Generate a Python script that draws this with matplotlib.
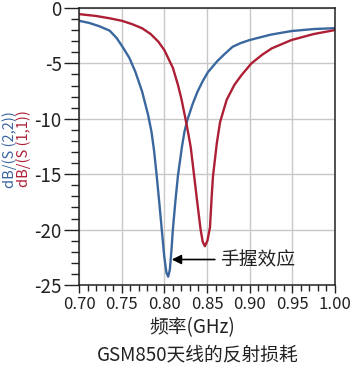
import matplotlib
matplotlib.use("Agg")
import matplotlib.pyplot as plt
from matplotlib.ticker import MultipleLocator, FormatStrFormatter

# === Data ===
freq_s22 = [0.700, 0.712, 0.724, 0.736, 0.744, 0.751, 0.759, 0.766, 0.774, 0.781,
            0.785, 0.788, 0.791, 0.794, 0.797, 0.800, 0.8025, 0.8045, 0.8065, 0.8085,
            0.810, 0.813, 0.816, 0.8205, 0.8235, 0.827, 0.833, 0.8386, 0.845, 0.851,
            0.862, 0.870, 0.880, 0.890, 0.900, 0.925, 0.949, 0.975, 1.000]
db_s22 = [-1.15, -1.35, -1.65, -2.05, -2.7, -3.5, -4.5, -5.75, -7.55, -9.66,
          -11.2, -12.9, -15.1, -17.5, -20.0, -22.5, -23.9, -24.25, -23.6, -21.7,
          -20.0, -17.4, -15.1, -12.6, -11.2, -10.1, -8.7, -7.6, -6.6, -5.8,
          -4.8, -4.2, -3.5, -3.15, -2.89, -2.4, -2.08, -1.9, -1.82]

freq_s11 = [0.700, 0.720, 0.736, 0.750, 0.762, 0.774, 0.784, 0.793, 0.800, 0.805,
            0.810, 0.816, 0.820, 0.824, 0.828, 0.831, 0.835, 0.839, 0.8425, 0.845,
            0.8475, 0.8505, 0.8535, 0.8555, 0.857, 0.8615, 0.8653, 0.873, 0.882, 0.890,
            0.902, 0.915, 0.926, 0.949, 0.975, 1.000]
db_s11 = [-0.55, -0.72, -0.93, -1.15, -1.45, -1.83, -2.35, -3.04, -3.8, -4.6,
          -5.4, -6.95, -8.2, -9.7, -11.3, -12.6, -15.2, -17.8, -20.0, -21.1,
          -21.5, -21.0, -19.8, -17.0, -15.2, -12.2, -10.3, -8.3, -6.95, -6.1,
          -5.0, -4.2, -3.64, -2.89, -2.35, -1.99]

note_tip = (0.8087, -22.7)
note_tail = (0.8592, -22.7)
note_text = "手握效应"

BLUE = "#3b679f"
RED = "#ad1f35"
INK = "#222222"

plt.rcParams["font.family"] = ["Noto Sans CJK SC", "DejaVu Sans"]
plt.rcParams["axes.unicode_minus"] = False
plt.rcParams["text.color"] = INK
plt.rcParams["xtick.color"] = INK
plt.rcParams["ytick.color"] = INK

fig = plt.figure(figsize=(3.5, 3.65), dpi=100)
# axes box: x 79..335 px, y 8..285 px
ax = fig.add_axes([79 / 350, 1 - 285 / 365, 256 / 350, 277 / 365])

ax.plot(freq_s22, db_s22, color=BLUE, lw=1.7)
ax.plot(freq_s11, db_s11, color=RED, lw=1.7)

ax.set_xlim(0.70, 1.00)
ax.set_ylim(-25, 0)
ax.xaxis.set_major_locator(MultipleLocator(0.05))
ax.xaxis.set_minor_locator(MultipleLocator(0.01))
ax.yaxis.set_major_locator(MultipleLocator(5))
ax.yaxis.set_minor_locator(MultipleLocator(1))
ax.xaxis.set_major_formatter(FormatStrFormatter("%.2f"))
ax.yaxis.set_major_formatter(FormatStrFormatter("%d"))

ax.grid(True, which="major", color="#c8c8c8", lw=1)
ax.set_axisbelow(True)
for s in ax.spines.values():
    s.set_linewidth(1.1)
    s.set_color(INK)

ax.tick_params(axis="y", which="major", length=10.5, width=1, labelsize=13.5, pad=2)
ax.tick_params(axis="y", which="minor", length=5.5, width=1)
ax.tick_params(axis="x", which="major", length=6, width=1, labelsize=12, pad=2)
ax.tick_params(axis="x", which="minor", length=4.5, width=1)

# annotation
ax.annotate("", xy=note_tip, xytext=note_tail,
            arrowprops=dict(arrowstyle="-|>", color="black", lw=1.2,
                            mutation_scale=14, shrinkA=0, shrinkB=0))
ax.text(0.8654, note_tip[1], note_text, fontsize=13.5, va="center", ha="left")

# axis labels
fig.text(9.5 / 350, 1 - 150 / 365, "dB/(S (2,2))", rotation=90, color=BLUE,
         fontsize=10.5, ha="center", va="center")
fig.text(23.5 / 350, 1 - 149 / 365, "dB/(S (1,1))", rotation=90, color=RED,
         fontsize=10.5, ha="center", va="center")
fig.text(192 / 350, 1 - 328 / 365, "频率(GHz)", fontsize=13.5,
         ha="center", va="center")
fig.text(198 / 350, 1 - 355 / 365, "GSM850天线的反射损耗", fontsize=13.5,
         ha="center", va="center")

fig.savefig("out.png", dpi=100)
